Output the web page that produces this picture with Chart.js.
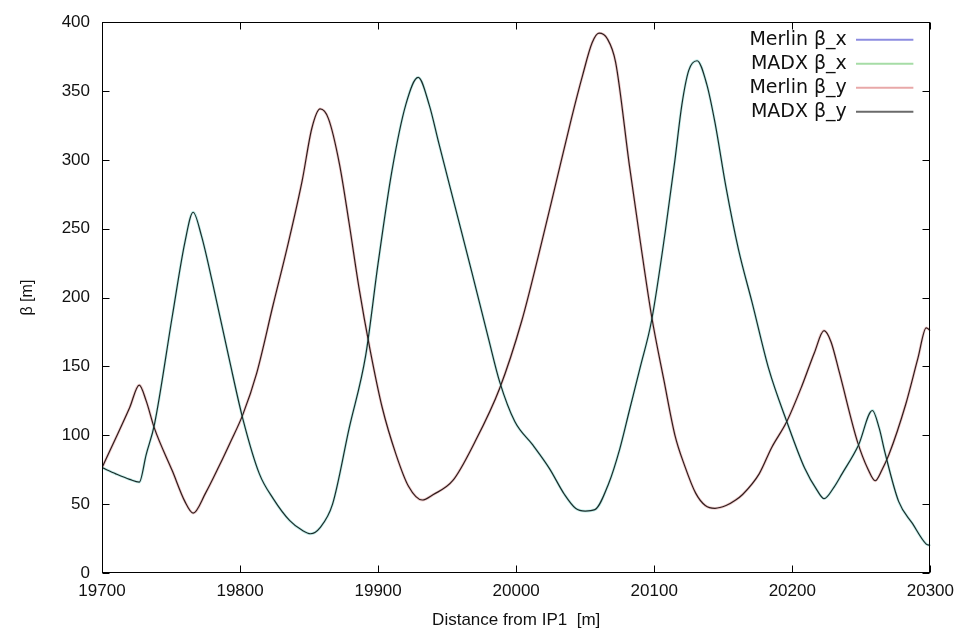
<!DOCTYPE html>
<html>
<head>
<meta charset="utf-8">
<title>Merlin vs MADX beta functions</title>
<script src="https://cdn.jsdelivr.net/npm/chart.js@4.4.1/dist/chart.umd.min.js"></script>
<style>
  html, body { margin: 0; padding: 0; background: #fff; }
  #wrap { width: 962px; height: 633px; }
</style>
</head>
<body>
<div id="wrap"><canvas id="betaChart" width="962" height="633"></canvas></div>
<script>
  'use strict';

  // Distance from IP1 [m] and beta [m].
  // Merlin and MADX agree to within the line width, so both codes share the values.
  const sBetaX = [19700, 19710, 19720, 19727, 19732, 19738, 19751, 19760, 19766, 19772,
    19780, 19792, 19802, 19814, 19824, 19836, 19845, 19851, 19858, 19867,
    19879, 19891, 19900, 19910, 19920, 19929, 19937, 19944, 19956, 19968,
    19980, 19988, 19999, 20012, 20024, 20035, 20043, 20050, 20057, 20067,
    20075, 20082, 20090, 20098, 20108, 20115, 20120, 20125, 20131, 20138,
    20144, 20152, 20161, 20171, 20183, 20196, 20209, 20218, 20223, 20230,
    20236, 20248, 20258, 20263, 20267, 20277, 20287, 20297, 20300];
  const betaX = [76.5, 72, 68, 66, 86, 108, 187, 240, 262, 245,
    211, 156, 112, 72, 54, 38, 31, 28.5, 33, 50,
    105, 158, 225, 292, 340, 360, 340, 312, 265, 218,
    170, 139, 110, 93, 76, 57, 47, 45, 46, 65,
    90, 118, 150, 183, 248, 300, 340, 365, 372, 355,
    327, 280, 235, 196, 148, 110, 76, 60, 54, 62,
    72, 93, 118, 105, 88, 52, 36, 21, 20];

  const sBetaY = [19700, 19710, 19720, 19727, 19732, 19738, 19751, 19760, 19766, 19775,
    19785, 19793, 19802, 19812, 19824, 19835, 19845, 19852, 19858, 19864,
    19872, 19879, 19886, 19894, 19903, 19913, 19922, 19932, 19940, 19954,
    19970, 19988, 20004, 20016, 20029, 20040, 20048, 20055, 20060, 20066,
    20072, 20082, 20090, 20098, 20107, 20115, 20122, 20130, 20137, 20144,
    20152, 20159, 20164, 20176, 20185, 20196, 20207, 20216, 20223, 20228,
    20234, 20247, 20255, 20260, 20265, 20270, 20282, 20291, 20297, 20300];
  const betaY = [76.5, 98, 120, 136.5, 125, 105, 74, 52, 43.5, 58,
    78, 95, 115, 145, 195, 240, 285, 323, 337, 330,
    297, 254, 208, 163, 120, 86, 63, 53, 57, 67,
    95, 134, 183, 230, 284, 330, 361, 385, 392, 388,
    371, 296, 240, 187, 140, 100, 78, 58, 49, 47,
    49, 53, 57, 72, 91, 110, 136, 160, 176, 168,
    146, 96, 75, 67, 75, 86, 122, 156, 178, 176];

  const seriesLabels = ['Merlin \u03b2_x', 'MADX \u03b2_x', 'Merlin \u03b2_y', 'MADX \u03b2_y'];
  const xTicks = { min: 19700, max: 20300, step: 100 };
  const yTicks = { min: 0, max: 400, step: 50 };

  // Styling
  const legendColors = ['#8c8ce0', '#a6dca6', '#e8a8a8', '#6a6a6a'];
  const TICK_LEN = 7;
  const LEGEND_TOP = 20;   // offset of the key below the frame top
  const TEXT = '#111';

  const toPoints = (xs, ys) => xs.map((x, i) => ({ x, y: ys[i] }));

  // Line sample for the key, with empty space on its right so it sits off the frame
  function legendSample(color) {
    const c = document.createElement('canvas');
    c.width = 69;
    c.height = 4;
    const g = c.getContext('2d');
    g.fillStyle = color;
    g.fillRect(0, 1, 57, 2);
    return c;
  }

  // Pin the key to the top right corner of the plot area, gnuplot style
  const keyTopRight = {
    id: 'keyTopRight',
    afterLayout(chart) {
      const lg = chart.legend;
      const a = chart.chartArea;
      if (!lg) return;
      const w = lg.width;
      lg.left = a.right - w;
      lg.right = a.right;
      lg.top = a.top + LEGEND_TOP - 17;
      lg.bottom = lg.top + lg.height;
    }
  };

  // Full box with inward ticks on all four sides
  const frameTicks = {
    id: 'frameTicks',
    afterDatasetsDraw(chart) {
      const { ctx, chartArea: a, scales: { x, y } } = chart;
      const L = Math.round(a.left) + 0.5, R = Math.round(a.right) - 0.5;
      const T = Math.round(a.top) + 0.5, B = Math.round(a.bottom) - 0.5;
      ctx.save();
      ctx.strokeStyle = '#000';
      ctx.lineWidth = 1;
      ctx.beginPath();
      x.ticks.forEach(t => {
        const px = Math.round(x.getPixelForValue(t.value)) + 0.5;
        ctx.moveTo(px, B); ctx.lineTo(px, B - TICK_LEN);
        ctx.moveTo(px, T); ctx.lineTo(px, T + TICK_LEN);
      });
      y.ticks.forEach(t => {
        const py = Math.round(y.getPixelForValue(t.value)) + 0.5;
        ctx.moveTo(L, py); ctx.lineTo(L + TICK_LEN, py);
        ctx.moveTo(R, py); ctx.lineTo(R - TICK_LEN, py);
      });
      ctx.stroke();
      ctx.strokeRect(L, T, R - L, B - T);
      ctx.restore();
    }
  };

  const lineDefaults = {
    pointRadius: 0,
    fill: false,
    cubicInterpolationMode: 'monotone'
  };

  // Merlin lines underneath as a coloured fringe, MADX drawn on top
  const datasets = [
    { ...lineDefaults, label: seriesLabels[0], data: toPoints(sBetaX, betaX), borderColor: '#c2eeea', borderWidth: 2.8, order: 1 },
    { ...lineDefaults, label: seriesLabels[1], data: toPoints(sBetaX, betaX), borderColor: '#1c2b29', borderWidth: 1.2, order: 0 },
    { ...lineDefaults, label: seriesLabels[2], data: toPoints(sBetaY, betaY), borderColor: '#f0cccc', borderWidth: 2.8, order: 1 },
    { ...lineDefaults, label: seriesLabels[3], data: toPoints(sBetaY, betaY), borderColor: '#2e1d1d', borderWidth: 1.2, order: 0 }
  ];

  const sansFont = '"Liberation Sans", Arial, sans-serif';

  new Chart(document.getElementById('betaChart'), {
    type: 'line',
    data: { datasets },
    plugins: [keyTopRight, frameTicks],
    options: {
      responsive: false,
      animation: false,
      layout: { padding: { top: 17, right: 30, left: 0, bottom: 0 } },
      plugins: {
        tooltip: { enabled: false },
        legend: {
          position: 'chartArea',
          align: 'start',
          rtl: true,
          textDirection: 'ltr',
          onClick: null,
          labels: {
            usePointStyle: true,
            pointStyleWidth: 69,
            padding: 5,
            color: TEXT,
            font: { family: '"DejaVu Sans", sans-serif', size: 19 },
            generateLabels(chart) {
              return Chart.defaults.plugins.legend.labels.generateLabels(chart)
                .sort((a, b) => a.datasetIndex - b.datasetIndex)
                .map(item => {
                  item.pointStyle = legendSample(legendColors[item.datasetIndex]);
                  item.fontColor = TEXT;
                  return item;
                });
            }
          }
        }
      },
      scales: {
        x: {
          type: 'linear',
          min: xTicks.min,
          max: xTicks.max,
          border: { display: false },
          grid: { display: false, drawTicks: false },
          ticks: {
            stepSize: xTicks.step,
            padding: 8,
            maxRotation: 0,
            color: TEXT,
            font: { family: sansFont, size: 17 },
            callback: v => String(v)
          },
          title: {
            display: true,
            text: 'Distance from IP1  [m]',
            color: TEXT,
            font: { family: sansFont, size: 17 },
            padding: { top: 0, bottom: 2 }
          },
          afterFit(scale) { scale.height = 60; }
        },
        y: {
          min: yTicks.min,
          max: yTicks.max,
          border: { display: false },
          grid: { display: false, drawTicks: false },
          ticks: {
            stepSize: yTicks.step,
            padding: 12,
            color: TEXT,
            font: { family: sansFont, size: 17 },
            callback: v => String(v)
          },
          title: {
            display: true,
            text: '\u03b2 [m]',
            color: TEXT,
            font: { family: sansFont, size: 16 },
            padding: { top: 18, bottom: 0 }
          },
          afterFit(scale) { scale.width = 102; }
        }
      }
    }
  });
</script>
</body>
</html>
